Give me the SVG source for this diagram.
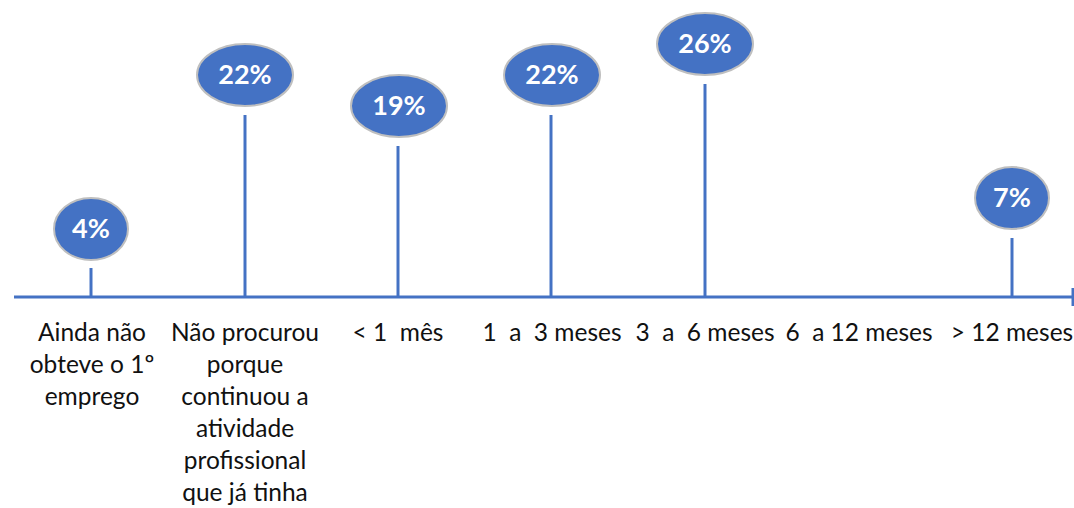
<svg xmlns="http://www.w3.org/2000/svg" width="1074" height="508" viewBox="0 0 1074 508">
<style>
.ln{stroke:#4472C4;stroke-width:3;fill:none}
.bub{fill:#4472C4;stroke:#BFBFBF;stroke-width:2}
.pct{font-family:Lato,"Open Sans",sans-serif;font-weight:bold;font-size:27px;fill:#fff;text-anchor:middle}
.lbl{font-family:Lato,"Open Sans",sans-serif;font-size:24.5px;fill:#111;text-anchor:middle;white-space:pre}
</style>
<rect width="1074" height="508" fill="#fff"/>
<g id="connectors">
<line class="ln" x1="14" y1="297" x2="1073" y2="297"/>
<line class="ln" x1="1073" y1="288" x2="1073" y2="306" stroke-width="2"/>
<line class="ln" x1="91" y1="268" x2="91" y2="297"/>
<line class="ln" x1="245" y1="115" x2="245" y2="297"/>
<line class="ln" x1="398" y1="146" x2="398" y2="297"/>
<line class="ln" x1="551" y1="115" x2="551" y2="297"/>
<line class="ln" x1="705" y1="84" x2="705" y2="297"/>
<line class="ln" x1="1012" y1="238" x2="1012" y2="297"/>
</g>
<g id="n1"><ellipse class="bub" cx="91" cy="229" rx="37" ry="31"/><text class="pct" x="91" y="238">4%</text>
<text class="lbl" x="92" y="341">Ainda não</text><text class="lbl" x="92" y="373">obteve o 1º</text><text class="lbl" x="92" y="405">emprego</text></g>
<g id="n2"><ellipse class="bub" cx="245" cy="75" rx="48" ry="31"/><text class="pct" x="245" y="84">22%</text>
<text class="lbl" x="245" y="341">Não procurou</text><text class="lbl" x="245" y="373">porque</text><text class="lbl" x="245" y="405">continuou a</text><text class="lbl" x="245" y="437">atividade</text><text class="lbl" x="245" y="469">profissional</text><text class="lbl" x="245" y="501">que já tinha</text></g>
<g id="n3"><ellipse class="bub" cx="399" cy="106" rx="48" ry="31"/><text class="pct" x="399" y="115">19%</text>
<text class="lbl" x="398" y="341">&lt; 1  mês</text></g>
<g id="n4"><ellipse class="bub" cx="552" cy="75" rx="48" ry="31"/><text class="pct" x="552" y="84">22%</text>
<text class="lbl" x="552" y="341">1  a  3 meses</text></g>
<g id="n5"><ellipse class="bub" cx="705" cy="44" rx="48" ry="31"/><text class="pct" x="705" y="53">26%</text>
<text class="lbl" x="705" y="341">3  a  6 meses</text></g>
<g id="n6"><text class="lbl" x="859" y="341">6  a 12 meses</text></g>
<g id="n7"><ellipse class="bub" cx="1012" cy="198" rx="37" ry="31"/><text class="pct" x="1012" y="207">7%</text>
<text class="lbl" x="1012" y="341">&gt; 12 meses</text></g>
</svg>
